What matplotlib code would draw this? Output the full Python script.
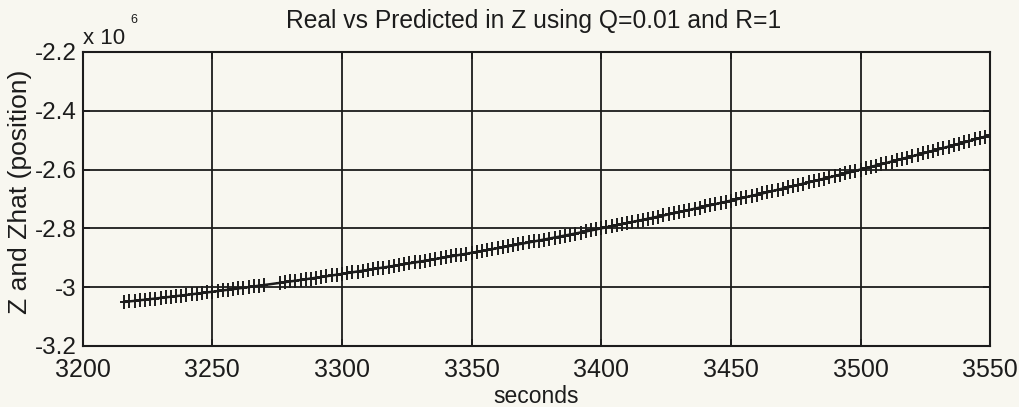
import numpy as np
import matplotlib
matplotlib.use("Agg")
import matplotlib.pyplot as plt
from matplotlib.path import Path
from matplotlib.ticker import FixedLocator, FuncFormatter

# Sample times (s), one estimate every 2 seconds
t_sec = np.arange(3216, 3551, 2)

# Z position in units of 1e6 (true trajectory and filter estimate coincide)
z_pos = [
    -3.0504, -3.0485, -3.0466, -3.0447, -3.0427, -3.0407, -3.0387, -3.0367,
    -3.0347, -3.0327, -3.0306, -3.0285, -3.0264, -3.0243, -3.0221, -3.0200,
    -3.0178, -3.0156, -3.0134, -3.0112, -3.0089, -3.0067, -3.0044, -3.0021,
    -2.9998, -2.9975, -2.9951, -2.9927, -2.9903, -2.9879, -2.9855, -2.9831,
    -2.9806, -2.9781, -2.9756, -2.9731, -2.9706, -2.9680, -2.9655, -2.9629,
    -2.9603, -2.9576, -2.9550, -2.9523, -2.9497, -2.9470, -2.9443, -2.9415,
    -2.9388, -2.9360, -2.9332, -2.9304, -2.9276, -2.9248, -2.9219, -2.9190,
    -2.9161, -2.9132, -2.9103, -2.9074, -2.9044, -2.9014, -2.8984, -2.8954,
    -2.8923, -2.8893, -2.8862, -2.8831, -2.8800, -2.8769, -2.8737, -2.8706,
    -2.8674, -2.8642, -2.8610, -2.8578, -2.8545, -2.8512, -2.8479, -2.8446,
    -2.8413, -2.8380, -2.8346, -2.8312, -2.8278, -2.8244, -2.8210, -2.8175,
    -2.8141, -2.8106, -2.8071, -2.8035, -2.8000, -2.7964, -2.7929, -2.7893,
    -2.7856, -2.7820, -2.7784, -2.7747, -2.7710, -2.7673, -2.7636, -2.7599,
    -2.7561, -2.7523, -2.7485, -2.7447, -2.7409, -2.7371, -2.7332, -2.7293,
    -2.7254, -2.7215, -2.7175, -2.7136, -2.7096, -2.7056, -2.7016, -2.6976,
    -2.6935, -2.6895, -2.6854, -2.6813, -2.6772, -2.6731, -2.6689, -2.6647,
    -2.6605, -2.6563, -2.6521, -2.6479, -2.6436, -2.6393, -2.6350, -2.6307,
    -2.6264, -2.6220, -2.6177, -2.6133, -2.6089, -2.6044, -2.6000, -2.5955,
    -2.5911, -2.5866, -2.5821, -2.5775, -2.5730, -2.5684, -2.5638, -2.5592,
    -2.5546, -2.5500, -2.5453, -2.5406, -2.5359, -2.5312, -2.5265, -2.5217,
    -2.5170, -2.5122, -2.5074, -2.5026, -2.4977, -2.4929, -2.4880, -2.4831,
]

# Times with no filter estimate
missing_pred = [3272, 3274]

x_ticks = [3200, 3250, 3300, 3350, 3400, 3450, 3500, 3550]
y_ticks = [-3.2, -3.0, -2.8, -2.6, -2.4, -2.2]

title = "Real vs Predicted in Z using Q=0.01 and R=1"
x_label = "seconds"
y_label = "Z and Zhat (position)"

bg = "#f8f7f0"
ink = "#1c1c1c"
font = ["Liberation Sans", "DejaVu Sans"]
plt.rcParams["font.family"] = font

# Plus marker with a tall vertical stroke and a shorter horizontal one
plus_tall = Path([(0, -1), (0, 1), (-0.6, 0), (0.6, 0)],
                 [Path.MOVETO, Path.LINETO, Path.MOVETO, Path.LINETO])

fig = plt.figure(figsize=(10.19, 4.07), dpi=100, facecolor=bg)
ax = fig.add_axes([0.0812, 0.150, 0.8905, 0.7223], facecolor=bg)

t_arr = np.asarray(t_sec)
z_arr = np.asarray(z_pos)
keep = ~np.isin(t_arr, missing_pred)

ax.plot(t_arr, z_arr, color=ink, lw=1.8, zorder=3)
ax.plot(t_arr[keep], z_arr[keep], ls="none", marker=plus_tall, ms=10,
        mew=1.4, mfc="none", mec=ink, zorder=4)

ax.set_xlim(3200, 3550)
ax.set_ylim(-3.2, -2.2)
ax.xaxis.set_major_locator(FixedLocator(x_ticks))
ax.yaxis.set_major_locator(FixedLocator(y_ticks))
ax.yaxis.set_major_formatter(FuncFormatter(lambda v, p: f"{v:g}"))

ax.grid(True, color=ink, lw=1.3, ls="-")
ax.set_axisbelow(True)
for s in ax.spines.values():
    s.set_color(ink)
    s.set_linewidth(1.5)

ax.tick_params(axis="x", direction="in", length=5, width=1.2, colors=ink,
               labelsize=18, pad=9, top=True)
ax.tick_params(axis="y", direction="in", length=5, width=1.2, colors=ink,
               labelsize=17.5, pad=4.5, right=True)

fig.text(0.5235, 0.948, title, ha="center", va="center", fontsize=17.7,
         color=ink)
fig.text(0.526, 0.025, x_label, ha="center", va="center", fontsize=16.5,
         color=ink)
fig.text(0.020, 0.528, y_label, ha="center", va="center", rotation=90,
         fontsize=19, color=ink)

# Axis multiplier above the y axis
fig.text(0.0815, 0.893, "x 10", ha="left", va="baseline", fontsize=16,
         color=ink)
fig.text(0.1275, 0.944, "6", ha="left", va="baseline", fontsize=9,
         color=ink)

fig.savefig("out.png", dpi=100, facecolor=bg)
